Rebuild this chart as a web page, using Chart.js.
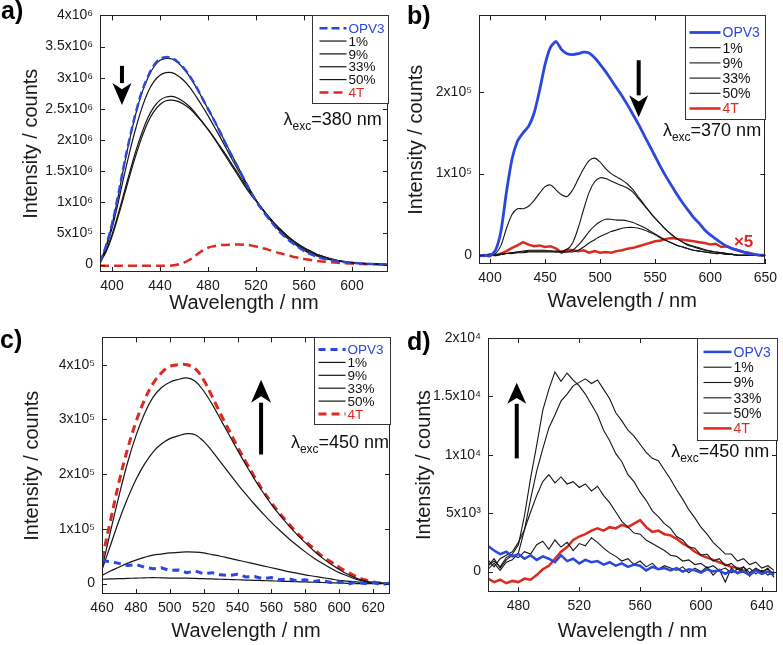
<!DOCTYPE html>
<html>
<head>
<meta charset="utf-8">
<script src="https://cdn.jsdelivr.net/npm/chart.js@4.4.0/dist/chart.umd.min.js"></script>
<style>
  body { margin: 0; background: #fff; }
  #wrap { position: relative; width: 783px; height: 645px; overflow: hidden; }
  canvas { position: absolute; }
</style>
</head>
<body>
<div id="wrap">
  <canvas id="panelA" width="392" height="322" style="left:0;top:0"></canvas>
  <canvas id="panelB" width="391" height="322" style="left:392px;top:0"></canvas>
  <canvas id="panelC" width="392" height="323" style="left:0;top:322px"></canvas>
  <canvas id="panelD" width="391" height="323" style="left:392px;top:322px"></canvas>
</div>
<script>
// ---- panel a: lambda_exc = 380 nm (intensity in 10^6 counts)
const wlA = [390,395,400,405,410,415,420,425,430,435,440,445,450,455,460,465,470,475,480,485,490,495,500,505,510,515,520,525,530,535,540,545,550,555,560,565,570,575,580,585,590,595,600,605,610,615,620,625,630];
const opv3A = [0.03,0.3,0.65,1.1,1.6,2.05,2.45,2.78,3.02,3.2,3.3,3.33,3.31,3.25,3.15,3.02,2.86,2.68,2.5,2.32,2.13,1.93,1.74,1.56,1.37,1.19,1.02,0.88,0.75,0.63,0.52,0.43,0.35,0.28,0.22,0.17,0.13,0.1,0.08,0.06,0.045,0.035,0.027,0.02,0.014,0.009,0.005,0.002,0];
const p1A = [0.03,0.29,0.64,1.08,1.58,2.03,2.43,2.76,3.0,3.18,3.28,3.31,3.3,3.24,3.14,3.01,2.85,2.68,2.5,2.32,2.13,1.94,1.75,1.57,1.38,1.2,1.03,0.89,0.76,0.64,0.53,0.44,0.36,0.29,0.23,0.18,0.14,0.11,0.085,0.065,0.05,0.038,0.029,0.021,0.015,0.01,0.006,0.003,0];
const p9A = [0.03,0.27,0.58,0.98,1.42,1.83,2.2,2.52,2.77,2.94,3.04,3.08,3.08,3.03,2.95,2.84,2.7,2.55,2.39,2.22,2.05,1.87,1.69,1.52,1.35,1.19,1.04,0.9,0.77,0.65,0.55,0.46,0.38,0.31,0.25,0.2,0.155,0.12,0.09,0.07,0.055,0.04,0.03,0.022,0.015,0.01,0.006,0.003,0];
const p33A = [0.03,0.22,0.48,0.8,1.15,1.5,1.83,2.12,2.36,2.53,2.64,2.69,2.7,2.67,2.61,2.53,2.42,2.3,2.17,2.03,1.88,1.73,1.58,1.43,1.28,1.14,1.02,0.9,0.78,0.67,0.57,0.48,0.4,0.33,0.27,0.22,0.17,0.135,0.105,0.08,0.06,0.045,0.033,0.024,0.017,0.011,0.006,0.003,0];
const p50A = [0.03,0.2,0.45,0.76,1.1,1.44,1.76,2.05,2.29,2.46,2.57,2.63,2.64,2.62,2.57,2.5,2.4,2.29,2.17,2.04,1.9,1.76,1.61,1.46,1.31,1.17,1.03,0.9,0.78,0.67,0.57,0.48,0.4,0.33,0.27,0.22,0.17,0.135,0.105,0.08,0.06,0.045,0.033,0.024,0.017,0.011,0.006,0.003,0];
const t4A = [-0.02,-0.02,-0.02,-0.02,-0.02,-0.02,-0.02,-0.02,-0.02,-0.02,-0.02,-0.02,-0.015,0.0,0.03,0.08,0.15,0.22,0.27,0.295,0.31,0.315,0.32,0.32,0.318,0.31,0.29,0.265,0.24,0.21,0.18,0.155,0.13,0.11,0.09,0.075,0.06,0.05,0.04,0.032,0.025,0.02,0.015,0.011,0.008,0.005,0.003,0.001,0];
const xTicksA = [400,440,480,520,560,600];
const yTicksA = [0,0.5,1,1.5,2,2.5,3,3.5,4];
const yLabelsA = ['0','5x10⁵','1x10⁶','1.5x10⁶','2x10⁶','2.5x10⁶','3x10⁶','3.5x10⁶','4x10⁶'];

// ---- panel b: lambda_exc = 370 nm (10^5 counts, 4T x5)
const wlB = [390,395,400,405,410,415,420,425,430,435,440,445,450,455,460,465,470,475,480,485,490,495,500,505,510,515,520,525,530,535,540,545,550,555,560,565,570,575,580,585,590,595,600,605,610,615,620,625,630,635,640,645,650];
const opv3B = [-0.01,0,-0.01,0.06,0.3,0.78,1.18,1.4,1.5,1.58,1.74,2.02,2.34,2.55,2.62,2.52,2.47,2.46,2.47,2.49,2.48,2.42,2.34,2.25,2.15,2.05,1.95,1.84,1.72,1.6,1.47,1.34,1.21,1.08,0.96,0.85,0.74,0.64,0.55,0.46,0.39,0.31,0.25,0.2,0.15,0.11,0.08,0.06,0.04,0.02,0.01,0,0];
const p1B = [-0.01,0,0,0.02,0.12,0.33,0.5,0.57,0.57,0.6,0.67,0.76,0.84,0.86,0.8,0.74,0.72,0.8,0.93,1.06,1.16,1.19,1.14,1.06,1.0,0.96,0.92,0.87,0.8,0.71,0.62,0.53,0.45,0.38,0.31,0.25,0.2,0.16,0.13,0.11,0.09,0.07,0.05,0.04,0.03,0.02,0.01,0,0,0,0,0,0];
const p9B = [-0.01,0,0,0,0.01,0.02,0.03,0.04,0.05,0.06,0.06,0.06,0.06,0.05,0.05,0.05,0.07,0.15,0.33,0.56,0.77,0.9,0.95,0.94,0.91,0.88,0.85,0.82,0.77,0.69,0.61,0.53,0.45,0.38,0.31,0.25,0.2,0.16,0.12,0.1,0.08,0.06,0.05,0.04,0.03,0.02,0.01,0,0,0,0,0,0];
const p33B = [-0.01,0,0,0,0.01,0.02,0.03,0.04,0.04,0.05,0.05,0.05,0.05,0.05,0.04,0.04,0.04,0.06,0.12,0.2,0.29,0.36,0.41,0.44,0.44,0.43,0.43,0.42,0.4,0.37,0.34,0.3,0.26,0.22,0.18,0.15,0.12,0.1,0.08,0.06,0.05,0.04,0.03,0.02,0.02,0.01,0.01,0,0,0,0,0,0];
const p50B = [-0.01,0,0,0,0.01,0.02,0.02,0.03,0.03,0.04,0.04,0.04,0.04,0.04,0.04,0.04,0.04,0.04,0.06,0.1,0.15,0.19,0.23,0.26,0.29,0.31,0.33,0.34,0.34,0.33,0.31,0.28,0.25,0.21,0.18,0.15,0.12,0.1,0.08,0.06,0.05,0.04,0.03,0.02,0.02,0.01,0.01,0,0,0,0,0,0];
const t4B = [0,-0.01,0.01,0,0.02,0.05,0.09,0.12,0.16,0.13,0.11,0.12,0.1,0.11,0.08,0.03,0.07,0.06,0.05,0.06,0.03,0.05,0.03,0.04,0.03,0.05,0.06,0.08,0.09,0.11,0.13,0.15,0.17,0.18,0.2,0.21,0.2,0.19,0.18,0.17,0.16,0.15,0.13,0.14,0.1,0.11,0.08,0.06,0.04,0.03,0.01,0,-0.01];
const xTicksB = [400,450,500,550,600,650];
const yTicksB = [0,1,2];
const yLabelsB = ['0','1x10⁵','2x10⁵'];

// ---- panel c: lambda_exc = 450 nm (10^5 counts)
const wlC = [460,465,470,475,480,485,490,495,500,505,510,515,520,525,530,535,540,545,550,555,560,565,570,575,580,585,590,595,600,605,610,615,620,625,630];
const opv3C = [0.42,0.4,0.37,0.33,0.35,0.3,0.27,0.29,0.24,0.25,0.2,0.23,0.18,0.2,0.16,0.15,0.17,0.12,0.13,0.09,0.11,0.07,0.09,0.05,0.07,0.04,0.06,0.02,0.04,-0.01,0.03,0,0.02,-0.02,0.01];
const p1C = [0.08,0.085,0.09,0.095,0.1,0.105,0.11,0.105,0.1,0.1,0.1,0.095,0.09,0.085,0.08,0.075,0.07,0.065,0.06,0.055,0.05,0.045,0.04,0.035,0.03,0.025,0.02,0.015,0.01,0.005,0,0,0,0,0];
const p9C = [0.15,0.23,0.3,0.37,0.43,0.48,0.52,0.54,0.56,0.57,0.58,0.575,0.56,0.53,0.5,0.465,0.43,0.395,0.36,0.325,0.29,0.255,0.22,0.19,0.16,0.135,0.11,0.085,0.06,0.045,0.03,0.02,0.01,0.005,0];
const p33C = [0.25,0.7,1.15,1.55,1.9,2.18,2.4,2.55,2.65,2.7,2.74,2.72,2.6,2.42,2.22,2.02,1.82,1.63,1.45,1.28,1.12,0.97,0.83,0.7,0.58,0.47,0.37,0.28,0.2,0.14,0.08,0.04,0.02,0.01,0];
const p50C = [0.28,0.95,1.6,2.2,2.7,3.1,3.4,3.58,3.68,3.73,3.76,3.7,3.52,3.28,3.0,2.72,2.44,2.17,1.91,1.67,1.45,1.25,1.07,0.9,0.75,0.6,0.47,0.36,0.26,0.17,0.1,0.05,0.02,0.01,0];
const t4C = [0.45,1.15,1.85,2.45,2.95,3.35,3.65,3.85,3.97,4.0,4.0,3.93,3.72,3.42,3.1,2.8,2.5,2.22,1.95,1.7,1.48,1.28,1.1,0.93,0.78,0.64,0.5,0.4,0.3,0.21,0.13,0.07,0.03,0.01,0];
const xTicksC = [460,480,500,520,540,560,580,600,620];
const yTicksC = [0,1,2,3,4];
const yLabelsC = ['0','1x10⁵','2x10⁵','3x10⁵','4x10⁵'];

// ---- panel d: lambda_exc = 450 nm (10^3 counts)
const wlD = [460,464,468,472,476,480,484,488,492,496,500,504,508,512,516,520,524,528,532,536,540,544,548,552,556,560,564,568,572,576,580,584,588,592,596,600,604,608,612,616,620,624,628,632,636,640,644,648];
const opv3D = [2.2,1.8,1.5,1.7,1.3,1.5,1.1,1.4,1.0,1.3,1.1,0.8,1.4,0.9,1.1,0.7,1.0,0.8,0.9,0.6,0.8,0.5,0.7,0.4,0.6,0.5,0.1,0.4,0.2,0.3,0.1,0.3,0,0.2,0.1,-0.1,0.2,0,0.1,-0.2,0.1,-0.1,0,-0.3,0.1,-0.2,0,-0.3];
const p1D = [0.5,1.1,0.3,1.0,1.4,1.2,1.7,1.5,2.3,2.6,1.9,2.7,2.1,2.5,1.8,2.4,2.2,2.9,2.5,2.0,1.6,1.3,0.9,1.1,0.6,0.9,0.4,0.7,0.2,0.5,0.3,0.1,0.4,-0.1,0.3,0,0.4,-0.3,0.2,-0.9,0.3,-0.2,0.4,-0.4,0.2,-0.1,0.3,-0.5];
const p9D = [1.0,0.4,1.1,1.4,1.7,2.5,3.6,5.1,6.5,7.7,8.3,7.6,8.1,7.5,7.7,7.2,7.5,6.9,7.3,6.5,5.9,5.1,4.3,3.8,3.3,3.2,2.7,2.4,2.1,1.8,1.4,1.3,0.9,1.0,0.6,0.7,0.3,0.5,0.1,0.3,-0.1,0.2,0,0.3,-0.2,0.1,-0.3,0];
const p33D = [0.5,0.9,0.4,1.2,1.5,2.3,4.8,8.0,10.8,13.8,15.6,17.1,16.3,17.0,16.4,15.9,15.2,14.3,13.4,12.1,11.2,10.1,9.4,8.3,7.7,6.8,6.1,5.2,4.7,4.1,3.7,3.0,2.7,2.1,2.0,1.4,1.5,0.9,1.1,0.5,0.7,0.2,0.4,-0.1,0.3,0,0.2,-0.2];
const p50D = [0.2,0.7,0.1,0.8,1.0,1.6,3.6,6.2,8.6,10.5,12.3,13.4,14.6,15.2,15.9,16.2,16.5,16.1,16.4,15.6,14.8,13.6,12.9,12.1,11.6,10.9,10.2,9.7,9.5,8.7,7.9,7.0,6.2,5.3,4.6,3.8,3.2,2.5,2.0,1.5,1.5,0.9,1.1,0.6,0.8,0.3,0.5,0.1];
const t4D = [-0.6,-0.9,-0.7,-1.0,-0.8,-0.9,-0.6,-0.7,-0.3,0.2,0.5,1.1,1.7,2.1,2.7,3.0,3.2,3.5,3.7,3.5,3.8,3.7,4.0,3.8,4.1,4.4,3.8,3.4,3.5,3.2,3.1,2.8,2.4,2.1,1.7,1.4,1.2,1.0,0.8,0.6,0.4,0.3,0.1,null,null,null,null,null];
const xTicksD = [480,520,560,600,640];
const yTicksD = [0,5,10,15,20];
const yLabelsD = ['0','5x10³','1x10⁴','1.5x10⁴','2x10⁴'];

const seriesNames = ['OPV3', '1%', '9%', '33%', '50%', '4T'];
const BLUE = '#2b47dc';
const RED = '#dc2a20';
const BLACK = '#151515';
const FONT = '"Liberation Sans", Arial, Helvetica, sans-serif';

Chart.defaults.font.family = FONT;
Chart.defaults.color = '#1a1a1a';

// frame, inward ticks, legend box, arrow, lambda label, panel letter
const decor = {
  id: 'decor',
  afterDraw(chart, args, o) {
    const { ctx, chartArea: a, scales: { x, y } } = chart;
    ctx.save();
    ctx.strokeStyle = '#222';
    ctx.lineWidth = 1;
    ctx.strokeRect(Math.round(a.left) + 0.5, Math.round(a.top) + 0.5, Math.round(a.width) - 1, Math.round(a.height) - 1);
    ctx.beginPath();
    x.ticks.forEach(t => {
      const px = Math.round(x.getPixelForValue(t.value)) + 0.5;
      ctx.moveTo(px, a.bottom); ctx.lineTo(px, a.bottom - 5);
      ctx.moveTo(px, a.top); ctx.lineTo(px, a.top + 5);
    });
    y.ticks.forEach(t => {
      const py = Math.round(y.getPixelForValue(t.value)) + 0.5;
      ctx.moveTo(a.left, py); ctx.lineTo(a.left + 5, py);
      ctx.moveTo(a.right, py); ctx.lineTo(a.right - 5, py);
    });
    ctx.stroke();

    // legend
    const L = o.legend;
    const bx = Math.round(a.right - L.w) + 0.5, by = Math.round(a.top) + 0.5;
    ctx.fillStyle = '#fff';
    ctx.fillRect(bx, by, L.w, L.h);
    ctx.strokeStyle = '#333';
    ctx.lineWidth = 1;
    ctx.strokeRect(bx, by, L.w, L.h);
    ctx.font = L.size + 'px ' + FONT;
    ctx.textBaseline = 'middle';
    ctx.textAlign = 'left';
    chart.data.datasets.forEach((ds, i) => {
      const ly = by + L.row0 + i * L.rowH;
      ctx.save();
      ctx.setLineDash(ds.borderDash || []);
      ctx.lineWidth = ds.borderWidth;
      ctx.strokeStyle = ds.borderColor;
      ctx.beginPath();
      ctx.moveTo(bx + L.x0, ly); ctx.lineTo(bx + L.x1, ly);
      ctx.stroke();
      ctx.restore();
      ctx.fillStyle = ds.textColor;
      ctx.fillText(ds.label, bx + L.tx, ly + 1);
    });

    // arrow
    const ar = o.arrow;
    const ax = x.getPixelForValue(ar.x);
    const y0 = y.getPixelForValue(ar.from), y1 = y.getPixelForValue(ar.to);
    const dir = y1 > y0 ? 1 : -1;
    ctx.fillStyle = '#000';
    ctx.strokeStyle = '#000';
    ctx.lineWidth = 4;
    ctx.beginPath();
    ctx.moveTo(ax, y0); ctx.lineTo(ax, y1 - dir * ar.head);
    ctx.stroke();
    ctx.beginPath();
    ctx.moveTo(ax, y1);
    ctx.lineTo(ax - ar.half, y1 - dir * ar.head);
    ctx.lineTo(ax, y1 - dir * ar.head * 0.72);
    ctx.lineTo(ax + ar.half, y1 - dir * ar.head);
    ctx.closePath();
    ctx.fill();

    // lambda_exc label
    const lx = x.getPixelForValue(o.lambda.x), ly = y.getPixelForValue(o.lambda.y);
    ctx.fillStyle = '#111';
    ctx.textBaseline = 'alphabetic';
    ctx.font = '18px ' + FONT;
    ctx.fillText('λ', lx, ly);
    let cx = lx + ctx.measureText('λ').width;
    ctx.font = '12px ' + FONT;
    ctx.fillText('exc', cx, ly + 5);
    cx += ctx.measureText('exc').width;
    ctx.font = '18px ' + FONT;
    ctx.fillText(o.lambda.text, cx, ly);

    (o.notes || []).forEach(n => {
      ctx.font = n.font;
      ctx.fillStyle = n.color;
      ctx.fillText(n.text, x.getPixelForValue(n.x), y.getPixelForValue(n.y));
    });

    // panel letter
    ctx.font = 'bold 25px ' + FONT;
    ctx.fillStyle = '#000';
    ctx.fillText(o.letter.text, o.letter.x, o.letter.y);
    ctx.restore();
  }
};

function makePanel(id, p) {
  const styles = p.styles;
  const values = p.values;
  const datasets = seriesNames.map((name, i) => ({
    label: name,
    data: values[i].map((v, k) => ({ x: p.wl[k], y: v })),
    borderColor: styles[i].color,
    borderWidth: styles[i].width,
    borderDash: styles[i].dash || [],
    tension: styles[i].tension || 0,
    textColor: styles[i].text,
    pointRadius: 0,
    fill: false
  }));
  new Chart(document.getElementById(id), {
    type: 'line',
    data: { datasets },
    plugins: [decor],
    options: {
      responsive: false,
      animation: false,
      devicePixelRatio: 1,
      layout: { padding: { top: p.padTop, right: p.padRight, left: 0, bottom: 0 } },
      plugins: { legend: { display: false }, tooltip: { enabled: false }, decor: p.decor },
      scales: {
        x: {
          type: 'linear', min: p.xMin, max: p.xMax,
          afterBuildTicks: s => { s.ticks = p.xTicks.map(v => ({ value: v })); },
          afterFit: s => { s.height = p.xAxisH; },
          grid: { display: false, drawTicks: false },
          border: { display: false },
          ticks: { padding: 6, font: { size: 14 }, maxRotation: 0, autoSkip: false, callback: v => String(v) },
          title: { display: true, text: 'Wavelength / nm', font: { size: 20 }, padding: { top: 0, bottom: p.xTitlePad } }
        },
        y: {
          type: 'linear', min: p.yMin, max: p.yMax,
          afterBuildTicks: s => { s.ticks = p.yTicks.map(v => ({ value: v })); },
          afterFit: s => { s.width = p.yAxisW; },
          grid: { display: false, drawTicks: false },
          border: { display: false },
          ticks: { padding: 7, font: { size: 14 }, autoSkip: false, callback: (v, i) => p.yLabels[i] },
          title: { display: true, text: 'Intensity / counts', font: { size: 20 }, padding: { top: p.yTitlePad, bottom: 0 } }
        }
      }
    }
  });
}

makePanel('panelA', {
  wl: wlA, values: [opv3A, p1A, p9A, p33A, p50A, t4A],
  styles: [
    { color: BLUE, width: 2.5, dash: [8, 4], tension: 0.4, text: BLUE },
    { color: BLACK, width: 1.2, tension: 0.4, text: '#111' },
    { color: BLACK, width: 1.2, tension: 0.4, text: '#111' },
    { color: BLACK, width: 1.2, tension: 0.4, text: '#111' },
    { color: BLACK, width: 1.2, tension: 0.4, text: '#111' },
    { color: RED, width: 2.5, dash: [9, 5], tension: 0.4, text: RED }
  ],
  xMin: 390, xMax: 630, xTicks: xTicksA,
  yMin: -0.12, yMax: 4, yTicks: yTicksA, yLabels: yLabelsA,
  yAxisW: 100, xAxisH: 50, padTop: 13, padRight: 4, xTitlePad: 7, yTitlePad: 19,
  decor: {
    legend: { w: 76, h: 88, row0: 12.7, rowH: 12.85, x0: 7, x1: 34, tx: 36, size: 13.5 },
    arrow: { x: 408.3, from: 3.19, to: 2.56, head: 22, half: 9.5 },
    lambda: { x: 543, y: 2.245, text: '=380 nm' },
    letter: { text: 'a)', x: 1, y: 19 }
  }
});

makePanel('panelB', {
  wl: wlB, values: [opv3B, p1B, p9B, p33B, p50B, t4B],
  styles: [
    { color: BLUE, width: 2.8, tension: 0.2, text: BLUE },
    { color: BLACK, width: 1.1, tension: 0.3, text: '#111' },
    { color: BLACK, width: 1.1, tension: 0.3, text: '#111' },
    { color: BLACK, width: 1.1, tension: 0.3, text: '#111' },
    { color: BLACK, width: 1.1, tension: 0.3, text: '#111' },
    { color: RED, width: 2.5, tension: 0, text: RED }
  ],
  xMin: 390, xMax: 650, xTicks: xTicksB,
  yMin: -0.108, yMax: 2.94, yTicks: yTicksB, yLabels: yLabelsB,
  yAxisW: 87, xAxisH: 58, padTop: 3, padRight: 15, xTitlePad: 9, yTitlePad: 12,
  decor: {
    legend: { w: 80, h: 104, row0: 17, rowH: 15.2, x0: 4, x1: 35, tx: 37, size: 14 },
    arrow: { x: 535, from: 2.39, to: 1.69, head: 22, half: 9.5 },
    lambda: { x: 557, y: 1.465, text: '=370 nm' },
    notes: [{ text: '×5', x: 621.5, y: 0.097, color: RED, font: 'bold 17px ' + FONT }],
    letter: { text: 'b)', x: 15, y: 24 }
  }
});

makePanel('panelC', {
  wl: wlC, values: [opv3C, p1C, p9C, p33C, p50C, t4C],
  styles: [
    { color: BLUE, width: 3, dash: [7, 5], tension: 0, text: BLUE },
    { color: BLACK, width: 1.2, tension: 0.4, text: '#111' },
    { color: BLACK, width: 1.2, tension: 0.4, text: '#111' },
    { color: BLACK, width: 1.2, tension: 0.4, text: '#111' },
    { color: BLACK, width: 1.2, tension: 0.4, text: '#111' },
    { color: RED, width: 3, dash: [8, 5], tension: 0.4, text: RED }
  ],
  xMin: 460, xMax: 630, xTicks: xTicksC,
  yMin: -0.19, yMax: 4.5, yTicks: yTicksC, yLabels: yLabelsC,
  yAxisW: 102, xAxisH: 51, padTop: 14, padRight: 2, xTitlePad: 2, yTitlePad: 20,
  decor: {
    legend: { w: 76, h: 87, row0: 12, rowH: 12.9, x0: 4, x1: 31, tx: 33, size: 13.5 },
    arrow: { x: 553.9, from: 2.36, to: 3.727, head: 23, half: 10 },
    lambda: { x: 571.5, y: 2.485, text: '=450 nm' },
    letter: { text: 'c)', x: 0, y: 26 }
  }
});

makePanel('panelD', {
  wl: wlD, values: [opv3D, p1D, p9D, p33D, p50D, t4D],
  styles: [
    { color: BLUE, width: 2.5, tension: 0, text: BLUE },
    { color: BLACK, width: 1.1, tension: 0, text: '#111' },
    { color: BLACK, width: 1.1, tension: 0, text: '#111' },
    { color: BLACK, width: 1.1, tension: 0, text: '#111' },
    { color: BLACK, width: 1.1, tension: 0, text: '#111' },
    { color: RED, width: 2.5, tension: 0, text: RED }
  ],
  xMin: 460, xMax: 650, xTicks: xTicksD,
  yMin: -1.75, yMax: 20, yTicks: yTicksD, yLabels: yLabelsD,
  yAxisW: 96, xAxisH: 53, padTop: 16, padRight: 6, xTitlePad: 2, yTitlePad: 20,
  decor: {
    legend: { w: 80, h: 102, row0: 13.4, rowH: 15.3, x0: 6, x1: 34, tx: 36, size: 14 },
    arrow: { x: 478.9, from: 9.69, to: 16.16, head: 21, half: 9.5 },
    lambda: { x: 580.4, y: 9.78, text: '=450 nm' },
    letter: { text: 'd)', x: 15, y: 28 }
  }
});
</script>
</body>
</html>
